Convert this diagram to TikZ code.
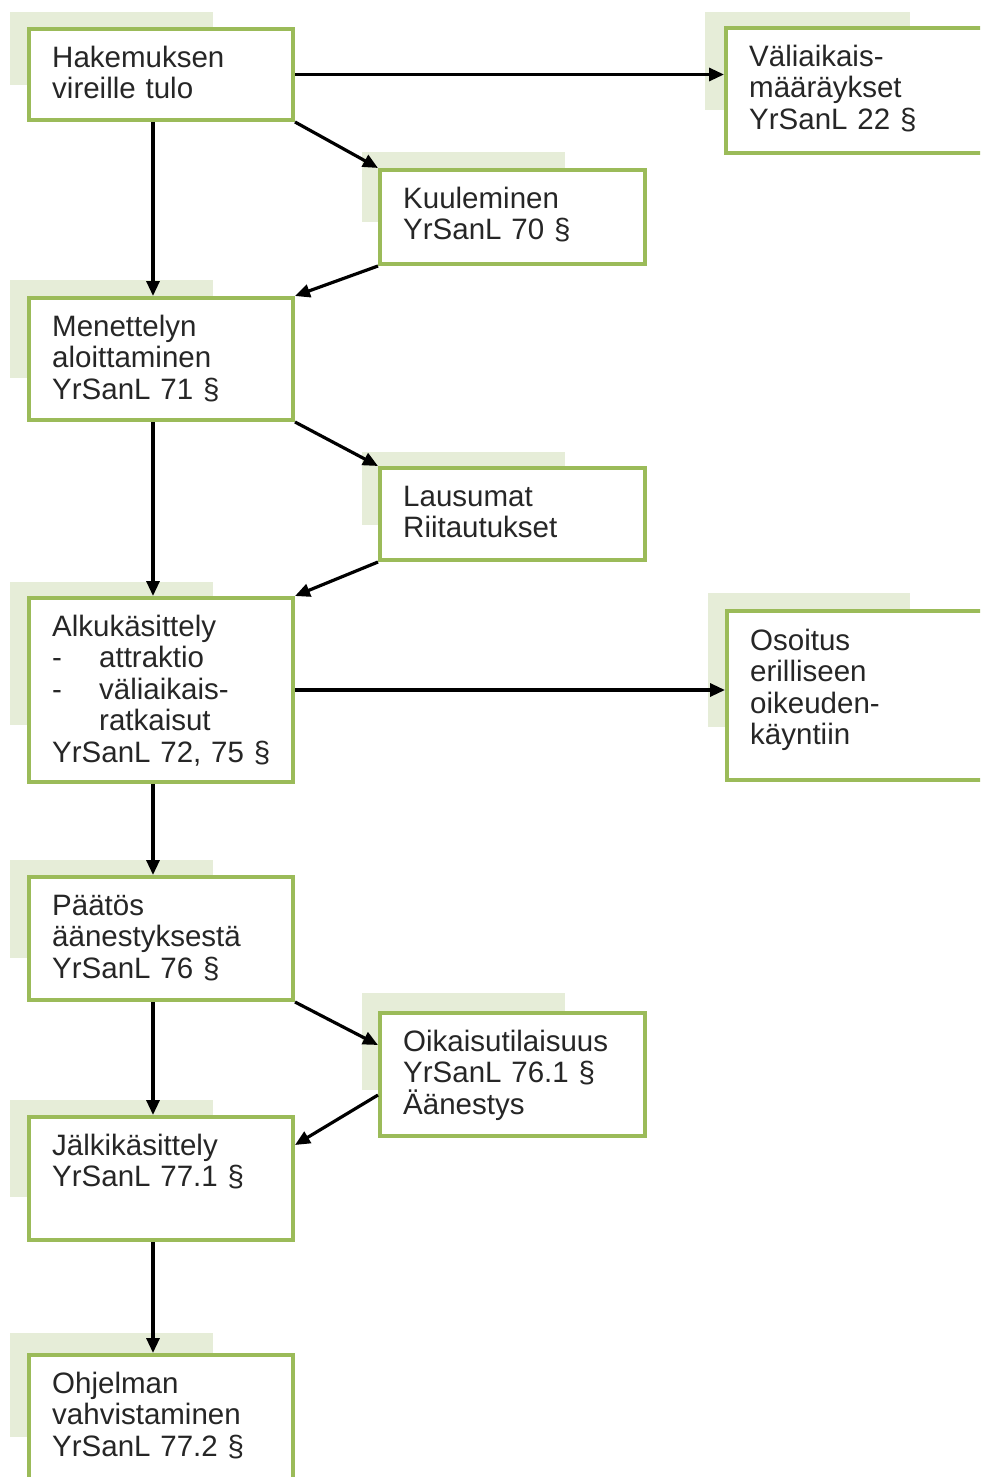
\documentclass[tikz,border=0pt]{standalone}
\usepackage{fontspec}
\setmainfont{Liberation Sans}
\usepackage{tikz}
\usetikzlibrary{calc,arrows.meta}
\definecolor{olivegreen}{RGB}{155,187,89}
\definecolor{palegreen}{RGB}{230,237,216}

\begin{document}
\begin{tikzpicture}[x=1pt,y=-1pt,
	box/.style={draw=olivegreen,line width=4pt,fill=white,inner sep=0pt},
	txt/.style={anchor=base west,inner sep=0pt,align=left,text width=250pt,text=black!85,
		font=\fontsize{29.5}{31.5}\selectfont},
	arr/.style={line width=3.2pt,-{Triangle[length=15pt,width=13pt]}}]
					%\draw[help lines] (0,0) grid[step=100] (980,1477);
	\useasboundingbox (0,0) rectangle (980,1477);
	\clip (0,0) rectangle (980,1477);
	\fill[white] (0,0) rectangle (980,1477);

			          %SHADOWS
			          \fill[palegreen] (10,12) rectangle (213,85);
			          \fill[palegreen] (705,12) rectangle (910,110);
			          \fill[palegreen] (362,152) rectangle (565,222);
			          \fill[palegreen] (10,280) rectangle (213,378);
			          \fill[palegreen] (362,452) rectangle (565,525);
			          \fill[palegreen] (10,582) rectangle (213,725);
			          \fill[palegreen] (708,593) rectangle (910,727);
			          \fill[palegreen] (10,860) rectangle (213,958);
			          \fill[palegreen] (362,993) rectangle (565,1090);
			          \fill[palegreen] (10,1100) rectangle (213,1197);
			          \fill[palegreen] (10,1333) rectangle (213,1437);

			          %BOXES
			          \node[box,minimum width=264pt,minimum height=91pt] (hak) at (161,74.5) {};
			          \node[box,minimum width=269pt,minimum height=125pt] (vali) at (860.5,90.5) {};
			          \node[box,minimum width=265pt,minimum height=94pt] (kuul) at (512.5,217) {};
			          \node[box,minimum width=264pt,minimum height=122pt] (men) at (161,359) {};
			          \node[box,minimum width=265pt,minimum height=92pt] (laus) at (512.5,514) {};
			          \node[box,minimum width=264pt,minimum height=184pt] (alku) at (161,690) {};
			          \node[box,minimum width=268pt,minimum height=169pt] (osoi) at (861,695.5) {};
			          \node[box,minimum width=264pt,minimum height=123pt] (paat) at (161,938.5) {};
			          \node[box,minimum width=265pt,minimum height=123pt] (oik) at (512.5,1074.5) {};
			          \node[box,minimum width=264pt,minimum height=123pt] (jalk) at (161,1178.5) {};
			          \node[box,minimum width=264pt,minimum height=132pt] (ohj) at (161,1421) {};

			          %TEXTS
			          \node[txt] (hakt) at ($(hak.north west)+(25,40.5)$) {Hakemuksen\\vireille tulo};
			          \node[txt] (valit) at ($(vali.north west)+(25,40.5)$) {Väliaikais-\\määräykset\\YrSanL 22 §};
			          \node[txt] (kuult) at ($(kuul.north west)+(25,40)$) {Kuuleminen\\YrSanL 70 §};
			          \node[txt] (ment) at ($(men.north west)+(25,40)$) {Menettelyn\\aloittaminen\\YrSanL 71 §};
			          \node[txt] (laust) at ($(laus.north west)+(25,40)$) {Lausumat\\Riitautukset};
			          \node[txt] (alkut) at ($(alku.north west)+(25,40)$) {Alkukäsittely\\\makebox[47pt][l]{-}attraktio\\\makebox[47pt][l]{-}väliaikais-\\\hspace*{47pt}ratkaisut\\YrSanL 72, 75 §};
			          \node[txt] (osoit) at ($(osoi.north west)+(25,41)$) {Osoitus\\erilliseen\\oikeuden-\\käyntiin};
			          \node[txt] (paatt) at ($(paat.north west)+(25,40)$) {Päätös\\äänestyksestä\\YrSanL 76 §};
			          \node[txt] (oikt) at ($(oik.north west)+(25,40)$) {Oikaisutilaisuus\\YrSanL 76.1 §\\Äänestys};
			          \node[txt] (jalkt) at ($(jalk.north west)+(25,40)$) {Jälkikäsittely\\YrSanL 77.1 §};
			          \node[txt] (ohjt) at ($(ohj.north west)+(25,40)$) {Ohjelman\\vahvistaminen\\YrSanL 77.2 §};

			          %ARROWS
			          \draw[arr] (hak.east) -- (hak.east -| vali.west);
			          \draw[arr] (hak.south east) -- (kuul.north west);
			          \draw[arr] ([xshift=-8pt]hak.south) -- ([xshift=-8pt]men.north);
			          \draw[arr] (kuul.south west) -- (men.north east);
			          \draw[arr] (men.south east) -- (laus.north west);
			          \draw[arr] ([xshift=-8pt]men.south) -- ([xshift=-8pt]alku.north);
			          \draw[arr] (laus.south west) -- (alku.north east);
			          \draw[arr] (alku.east) -- (alku.east -| osoi.west);
			          \draw[arr] ([xshift=-8pt]alku.south) -- ([xshift=-8pt]paat.north);
			          \draw[arr] (paat.south east) -- ([yshift=-34pt]oik.north west);
			          \draw[arr] ([yshift=-84pt]oik.north west) -- ([yshift=-30pt]jalk.north east);
			          \draw[arr] ([xshift=-8pt]paat.south) -- ([xshift=-8pt]jalk.north);
			          \draw[arr] ([xshift=-8pt]jalk.south) -- ([xshift=-8pt]ohj.north);
\end{tikzpicture}
\end{document}
